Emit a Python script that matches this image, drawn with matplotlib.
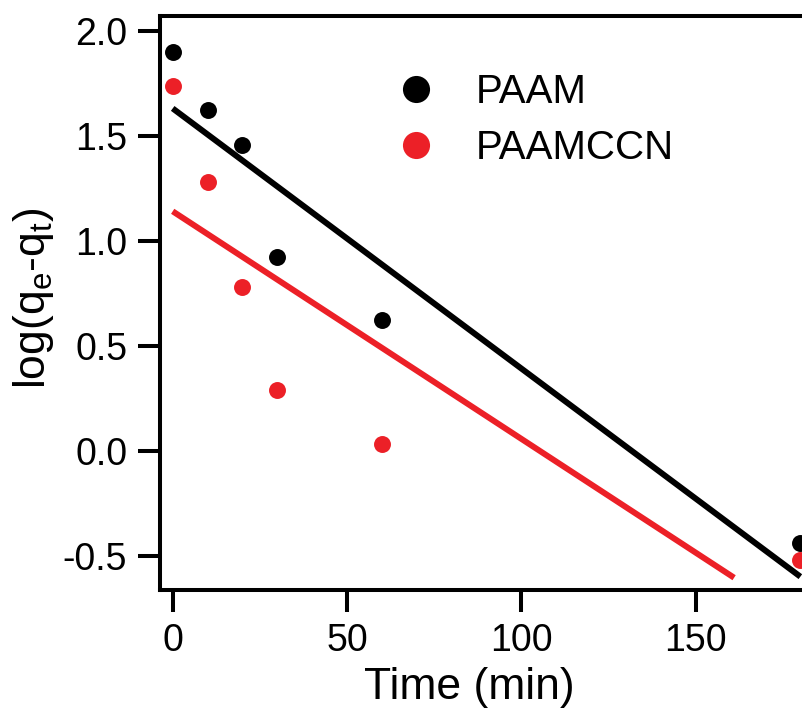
import matplotlib
matplotlib.use("Agg")
import matplotlib.pyplot as plt

plt.rcParams["font.family"] = ["Liberation Sans", "DejaVu Sans"]
plt.rcParams["mathtext.fontset"] = "custom"
plt.rcParams["mathtext.rm"] = "Liberation Sans"
plt.rcParams["axes.unicode_minus"] = False

# data
time_min = [0, 10, 20, 30, 60, 180]
paam = [1.897, 1.622, 1.456, 0.924, 0.622, -0.44]
paamccn = [1.737, 1.281, 0.781, 0.289, 0.030, -0.52]

# fitted lines (end points)
paam_fit_x = [0, 180]
paam_fit_y = [1.63, -0.60]
paamccn_fit_x = [0, 161]
paamccn_fit_y = [1.14, -0.605]

black = "#000000"
red = "#ec2027"

fig = plt.figure(figsize=(8.02, 7.09), dpi=100)
ax = fig.add_axes([0.1995, 0.1674, 0.8202, 0.8094])

ax.plot(paam_fit_x, paam_fit_y, color=black, lw=4.3, solid_capstyle="butt")
ax.plot(paamccn_fit_x, paamccn_fit_y, color=red, lw=4.3, solid_capstyle="butt")
ax.plot(time_min, paam, "o", color=black, ms=12.2, mew=0, label="PAAM")
ax.plot(time_min, paamccn, "o", color=red, ms=12.2, mew=0, label="PAAMCCN")

ax.set_xlim(-3.64, 185)
ax.set_ylim(-0.665, 2.068)
ax.set_xticks([0, 50, 100, 150])
ax.set_yticks([-0.5, 0.0, 0.5, 1.0, 1.5, 2.0])
ax.set_yticklabels(["-0.5", "0.0", "0.5", "1.0", "1.5", "2.0"])

for s in ax.spines.values():
    s.set_linewidth(2.9)
ax.tick_params(direction="out", length=15.5, width=2.9, pad=8, labelsize=27)

ax.set_xlabel("Time (min)", fontsize=32)
ax.xaxis.set_label_coords(0.47, -0.134)
ax.set_ylabel(r"log(q$_\mathrm{e}$-q$_\mathrm{t}$)", fontsize=32)
ax.yaxis.set_label_coords(-0.158, 0.51)

ax.legend(frameon=False, fontsize=29, markerscale=1.6, handlelength=1.0,
          handletextpad=1.0, labelspacing=0.44, borderpad=0, borderaxespad=0,
          loc="upper left", bbox_to_anchor=(0.493, 0.897),
          bbox_transform=fig.transFigure)

fig.savefig("out.png", dpi=100)
